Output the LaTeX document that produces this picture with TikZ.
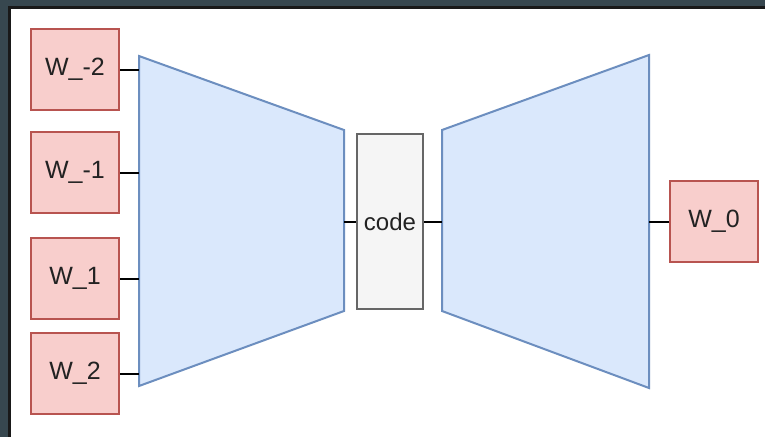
\documentclass[tikz,border=0pt]{standalone}
\usepackage{fontspec}
\setmainfont{Liberation Sans}
\begin{document}
\begin{tikzpicture}[x=1pt,y=-1pt,
  wbox/.style={draw=wred,fill=wredfill,line width=2pt,minimum width=88pt,minimum height=81pt,inner sep=0pt,font=\fontsize{25}{25}\selectfont,text=txt},
  codebox/.style={draw=cgray,fill=cgrayfill,line width=2pt,minimum width=66pt,minimum height=175pt,inner sep=0pt,font=\fontsize{24}{24}\selectfont,text=txt},
  trap/.style={draw=tblue,fill=tbluefill,line width=2pt,line join=miter},
  conn/.style={draw=black,line width=2pt}]
\definecolor{wred}{HTML}{B85450}
\definecolor{wredfill}{HTML}{F8CECC}
\definecolor{tblue}{HTML}{6C8EBF}
\definecolor{tbluefill}{HTML}{DAE8FC}
\definecolor{cgray}{HTML}{666666}
\definecolor{cgrayfill}{HTML}{F5F5F5}
\definecolor{txt}{HTML}{222222}
\definecolor{frame}{HTML}{37474F}
\useasboundingbox (0,0) rectangle (765,437);
% frame
\fill[frame] (0,0) rectangle (765,437);
\fill[black!90] (8,6) rectangle (765,437);
\fill[white] (11,9) rectangle (765,437);
% trapezoids
\coordinate (L1) at (139,56);
\coordinate (L2) at (344,130);
\coordinate (L3) at (344,311);
\coordinate (L4) at (139,386);
\coordinate (R1) at (442,130);
\coordinate (R2) at (649,55);
\coordinate (R3) at (649,388);
\coordinate (R4) at (442,311);
\draw[trap] (L1) -- (L2) -- (L3) -- (L4) -- cycle;
\draw[trap] (R1) -- (R2) -- (R3) -- (R4) -- cycle;
% boxes
\node[wbox] (wm2) at (75,69.5) {W\_-2};
\node[wbox] (wm1) at (75,172.5) {W\_-1};
\node[wbox] (wp1) at (75,278.5) {W\_1};
\node[wbox] (wp2) at (75,373.5) {W\_2};
\node[codebox] (code) at (390,221.5) {code};
\node[wbox] (w0) at (714,221.5) {W\_0};
% connectors
\draw[conn] (wm2.east) -- (wm2.east -| L1);
\draw[conn] (wm1.east) -- (wm1.east -| L1);
\draw[conn] (wp1.east) -- (wp1.east -| L1);
\draw[conn] (wp2.east) -- (wp2.east -| L1);
\draw[conn] (code.west) -- (code.west -| L2);
\draw[conn] (code.east) -- (code.east -| R1);
\draw[conn] (w0.west) -- (w0.west -| R2);
\end{tikzpicture}
\end{document}
